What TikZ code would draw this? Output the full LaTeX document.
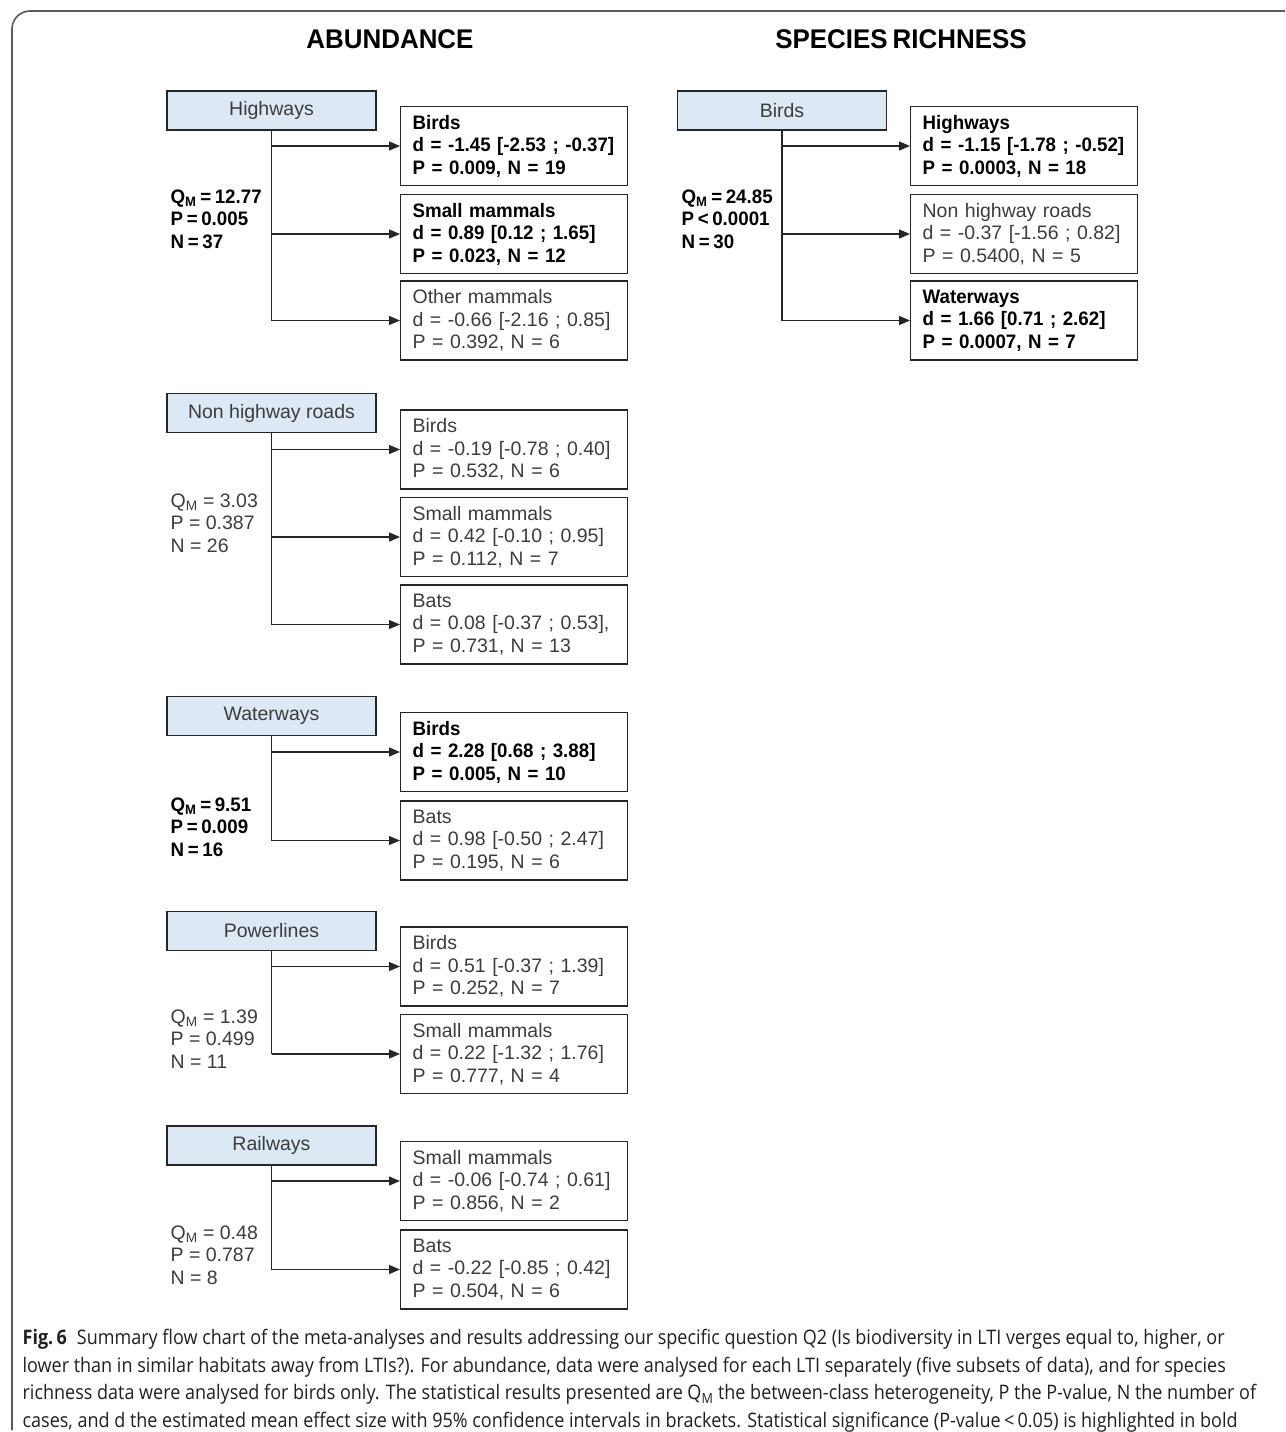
\documentclass[tikz,border=0pt]{standalone}
\usepackage{fontspec}
\setmainfont{Liberation Sans}[BoldFeatures={FakeStretch=0.96, WordSpace=0.7}]
\newfontfamily\capfont[FakeStretch=0.9]{Open Sans}
\usetikzlibrary{arrows.meta}

\definecolor{hdrblue}{HTML}{DCE9F5}
\definecolor{txtgray}{HTML}{3C3C3C}
\definecolor{linegray}{HTML}{262626}
\definecolor{framegray}{HTML}{5A5A5A}
\definecolor{capblack}{HTML}{231F20}

\newcommand{\boxfont}{\fontsize{19.5}{22.5}\selectfont}

\tikzset{
  hdr/.style={draw=linegray, fill=hdrblue, minimum width=209pt, minimum height=39pt, inner sep=0pt, text=txtgray},
  res/.style={draw=linegray, minimum width=227pt, minimum height=79pt, text width=203pt, inner xsep=12pt, inner ysep=0pt, align=left, text=txtgray, anchor=west},
  sig/.style={text=black, font=\boxfont\bfseries},
  stats/.style={anchor=west, align=left, inner sep=0pt, text=txtgray},
  arr/.style={-{Triangle[length=11pt,width=9pt]}},
  ttl/.style={font=\fontsize{27}{30}\selectfont\bfseries}
}

\begin{document}
\begin{tikzpicture}[x=1pt, y=-1pt, line width=1.3pt, draw=linegray, font=\boxfont]
  \useasboundingbox (0,0) rectangle (1285,1432);
  % frame
  \draw[framegray, line width=1.6pt, rounded corners=18pt] (1285,11) -- (12,11) -- (12,1430);

  % titles
  \node[ttl] (abund) at (390,39) {ABUNDANCE};
  \node[ttl] (rich) at (901,39) {SPECIES RICHNESS};

  % abundance: highways
  \node[hdr] (hwy) at (271.5,110.5) {Highways};
  \node[res,sig] (hwy1) at (400,146) {Birds\\d = -1.45 [-2.53 ; -0.37]\\P = 0.009, N = 19};
  \node[res,sig] (hwy2) at (400,234) {Small mammals\\d = 0.89 [0.12 ; 1.65]\\P = 0.023, N = 12};
  \node[res] (hwy3) at (400,320.5) {Other mammals\\d = -0.66 [-2.16 ; 0.85]\\P = 0.392, N = 6};
  \node[stats,sig] (hwyq) at (170,219) {Q\textsubscript{M} = 12.77\\P = 0.005\\N = 37};

  % abundance: non highway roads
  \node[hdr] (nhr) at (271.5,413) {Non highway roads};
  \node[res] (nhr1) at (400,449.5) {Birds\\d = -0.19 [-0.78 ; 0.40]\\P = 0.532, N = 6};
  \node[res] (nhr2) at (400,537) {Small mammals\\d = 0.42 [-0.10 ; 0.95]\\P = 0.112, N = 7};
  \node[res] (nhr3) at (400,624.5) {Bats\\d = 0.08 [-0.37 ; 0.53],\\P = 0.731, N = 13};
  \node[stats] (nhrq) at (170,523) {Q\textsubscript{M} = 3.03\\P = 0.387\\N = 26};

  % abundance: waterways
  \node[hdr] (wat) at (271.5,716) {Waterways};
  \node[res,sig] (wat1) at (400,752) {Birds\\d = 2.28 [0.68 ; 3.88]\\P = 0.005, N = 10};
  \node[res] (wat2) at (400,840.5) {Bats\\d = 0.98 [-0.50 ; 2.47]\\P = 0.195, N = 6};
  \node[stats,sig] (watq) at (170,827) {Q\textsubscript{M} = 9.51\\P = 0.009\\N = 16};

  % abundance: powerlines
  \node[hdr] (pow) at (271.5,931) {Powerlines};
  \node[res] (pow1) at (400,966.5) {Birds\\d = 0.51 [-0.37 ; 1.39]\\P = 0.252, N = 7};
  \node[res] (pow2) at (400,1054) {Small mammals\\d = 0.22 [-1.32 ; 1.76]\\P = 0.777, N = 4};
  \node[stats] (powq) at (170,1039) {Q\textsubscript{M} = 1.39\\P = 0.499\\N = 11};

  % abundance: railways
  \node[hdr] (rail) at (271.5,1145.5) {Railways};
  \node[res] (rail1) at (400,1181) {Small mammals\\d = -0.06 [-0.74 ; 0.61]\\P = 0.856, N = 2};
  \node[res] (rail2) at (400,1269.5) {Bats\\d = -0.22 [-0.85 ; 0.42]\\P = 0.504, N = 6};
  \node[stats] (railq) at (170,1255) {Q\textsubscript{M} = 0.48\\P = 0.787\\N = 8};

  % species richness: birds
  \node[hdr] (brd) at (782,110.5) {Birds};
  \node[res,sig] (brd1) at (910,146) {Highways\\d = -1.15 [-1.78 ; -0.52]\\P = 0.0003, N = 18};
  \node[res] (brd2) at (910,234) {Non highway roads\\d = -0.37 [-1.56 ; 0.82]\\P = 0.5400, N = 5};
  \node[res,sig] (brd3) at (910,320.5) {Waterways\\d = 1.66 [0.71 ; 2.62]\\P = 0.0007, N = 7};
  \node[stats,sig] (brdq) at (681,219) {Q\textsubscript{M} = 24.85\\P < 0.0001\\N = 30};

  % connectors
  \foreach \g/\n in {hwy/3, nhr/3, wat/2, pow/2, rail/2, brd/3} {
    \draw (\g.south) -- (\g.south |- \g\n.west);
    \foreach \i in {1,...,\n}
      \draw[arr] (\g.south |- \g\i.west) -- (\g\i.west);
  }

  % caption
  \node[anchor=north west, inner sep=0pt, align=left, text=capblack,
    font=\capfont\fontsize{20}{27.5}\selectfont] (cap) at (22,1329)
    {\textbf{Fig.\,6}\enspace Summary flow chart of the meta-analyses and results addressing our specific question Q2 (Is biodiversity in LTI verges equal to, higher, or\\
     lower than in similar habitats away from LTIs?). For abundance, data were analysed for each LTI separately (five subsets of data), and for species\\
     richness data were analysed for birds only. The statistical results presented are Q\textsubscript{M} the between-class heterogeneity, P the P-value, N the number of\\
     cases, and d the estimated mean effect size with 95\% confidence intervals in brackets. Statistical significance (P-value\,<\,0.05) is highlighted in bold};
\end{tikzpicture}
\end{document}
